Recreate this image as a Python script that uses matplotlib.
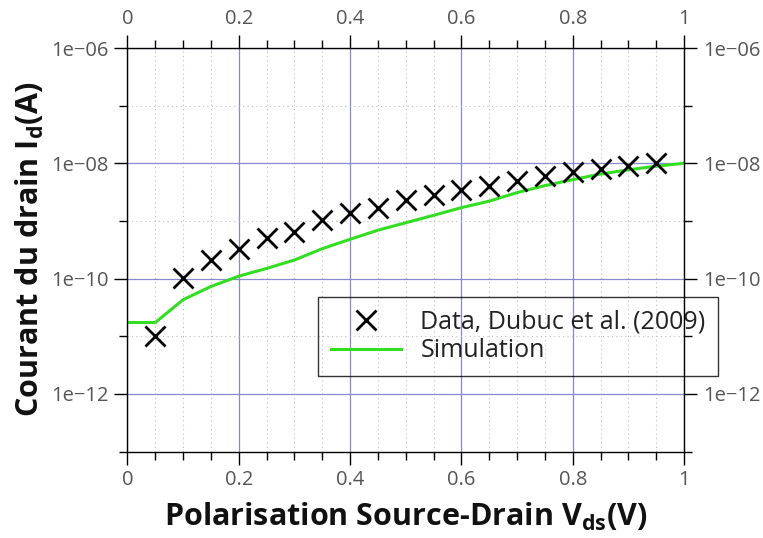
import matplotlib
matplotlib.use("Agg")
import matplotlib.pyplot as plt
from matplotlib.ticker import FixedLocator, FixedFormatter, NullFormatter

# ---- data ----
vds_data = [0.05, 0.10, 0.15, 0.20, 0.25, 0.30, 0.35, 0.40, 0.45, 0.50,
            0.55, 0.60, 0.65, 0.70, 0.75, 0.80, 0.85, 0.90, 0.95]
id_data = [1.0e-11, 1.04e-10, 2.1e-10, 3.2e-10, 5.0e-10, 6.4e-10, 1.03e-9, 1.4e-9,
           1.7e-9, 2.3e-9, 2.8e-9, 3.4e-9, 4.1e-9, 5.0e-9, 6.0e-9, 7.2e-9,
           7.9e-9, 9.0e-9, 1.0e-8]

vds_sim = [0.0, 0.05, 0.10, 0.15, 0.20, 0.25, 0.30, 0.35, 0.40, 0.45, 0.50,
           0.55, 0.60, 0.65, 0.70, 0.75, 0.80, 0.85, 0.90, 0.95, 1.0]
id_sim = [1.73e-11, 1.73e-11, 4.3e-11, 7.3e-11, 1.1e-10, 1.5e-10, 2.1e-10, 3.3e-10,
          4.8e-10, 6.9e-10, 9.3e-10, 1.25e-9, 1.7e-9, 2.2e-9, 3.1e-9, 4.1e-9,
          5.2e-9, 6.5e-9, 7.7e-9, 8.9e-9, 1.0e-8]

x_ticks = [0, 0.2, 0.4, 0.6, 0.8, 1.0]
x_ticklabels = ["0", "0.2", "0.4", "0.6", "0.8", "1"]
x_minor = [0.05, 0.1, 0.15, 0.25, 0.3, 0.35, 0.45, 0.5, 0.55, 0.65, 0.7, 0.75,
           0.85, 0.9, 0.95]
y_ticks = [1e-12, 1e-10, 1e-8, 1e-6]
y_ticklabels = ["1e\u221212", "1e\u221210", "1e\u221208", "1e\u221206"]
y_minor = [1e-13, 1e-11, 1e-9, 1e-7]

legend_labels = ["Data, Dubuc et al. (2009)", "Simulation"]

# ---- style ----
plt.rcParams['font.family'] = ['Open Sans', 'DejaVu Sans']
plt.rcParams['mathtext.fontset'] = 'custom'
plt.rcParams['mathtext.bf'] = 'Open Sans:bold'
plt.rcParams['mathtext.rm'] = 'Open Sans'

fig = plt.figure(figsize=(7.63, 5.38), dpi=100)
ax = fig.add_axes([127.5/763, 1 - 451.5/538, (684 - 127.5)/763, (451.5 - 48)/538])

ax.set_yscale('log')
ax.set_xlim(0, 1)
ax.set_ylim(1e-13, 1e-6)

ax.plot(vds_data, id_data, linestyle='none', marker='x', markersize=14,
        markeredgewidth=2.0, color='black', label=legend_labels[0], zorder=3)
ax.plot(vds_sim, id_sim, color='#33dd22', linewidth=2.2, label=legend_labels[1],
        zorder=2)

ax.xaxis.set_major_locator(FixedLocator(x_ticks))
ax.xaxis.set_major_formatter(FixedFormatter(x_ticklabels))
ax.xaxis.set_minor_locator(FixedLocator(x_minor))
ax.xaxis.set_minor_formatter(NullFormatter())
ax.yaxis.set_major_locator(FixedLocator(y_ticks))
ax.yaxis.set_major_formatter(FixedFormatter(y_ticklabels))
ax.yaxis.set_minor_locator(FixedLocator(y_minor))
ax.yaxis.set_minor_formatter(NullFormatter())

ax.tick_params(which='both', direction='out', top=True, right=True,
               labeltop=True, labelright=True, colors='black',
               labelcolor='#555555', width=1.0)
ax.tick_params(which='major', length=9.5, labelsize=14.5, pad=4)
ax.tick_params(which='minor', length=5.5)

ax.grid(True, which='major', color='#8888cc', linewidth=0.9, linestyle='-')
ax.grid(True, which='minor', color='#bbbbbb', linewidth=0.8, linestyle=(0, (1, 3)))
ax.set_axisbelow(True)

for s in ax.spines.values():
    s.set_linewidth(1.0)
    s.set_color('black')
    s.set_zorder(6)

ax.set_xlabel(r"Polarisation Source-Drain V$_{\mathbf{ds}}$(V)", fontsize=22,
              fontweight='bold', color='#111111', labelpad=8)
ax.set_ylabel(r"Courant du drain I$_{\mathbf{d}}$(A)", fontsize=22,
              fontweight='bold', color='#111111', labelpad=4)

leg = ax.legend(loc='upper left', bbox_to_anchor=(318/763, 1 - 297/538),
                bbox_transform=fig.transFigure, fontsize=18, frameon=True,
                fancybox=False, edgecolor='black', facecolor='none',
                handlelength=2.8, handletextpad=0.8, borderpad=0.5,
                labelspacing=0.15, borderaxespad=0)
leg.get_frame().set_linewidth(1.0)
for t in leg.get_texts():
    t.set_color('#222222')

fig.savefig('out.png', dpi=100)
